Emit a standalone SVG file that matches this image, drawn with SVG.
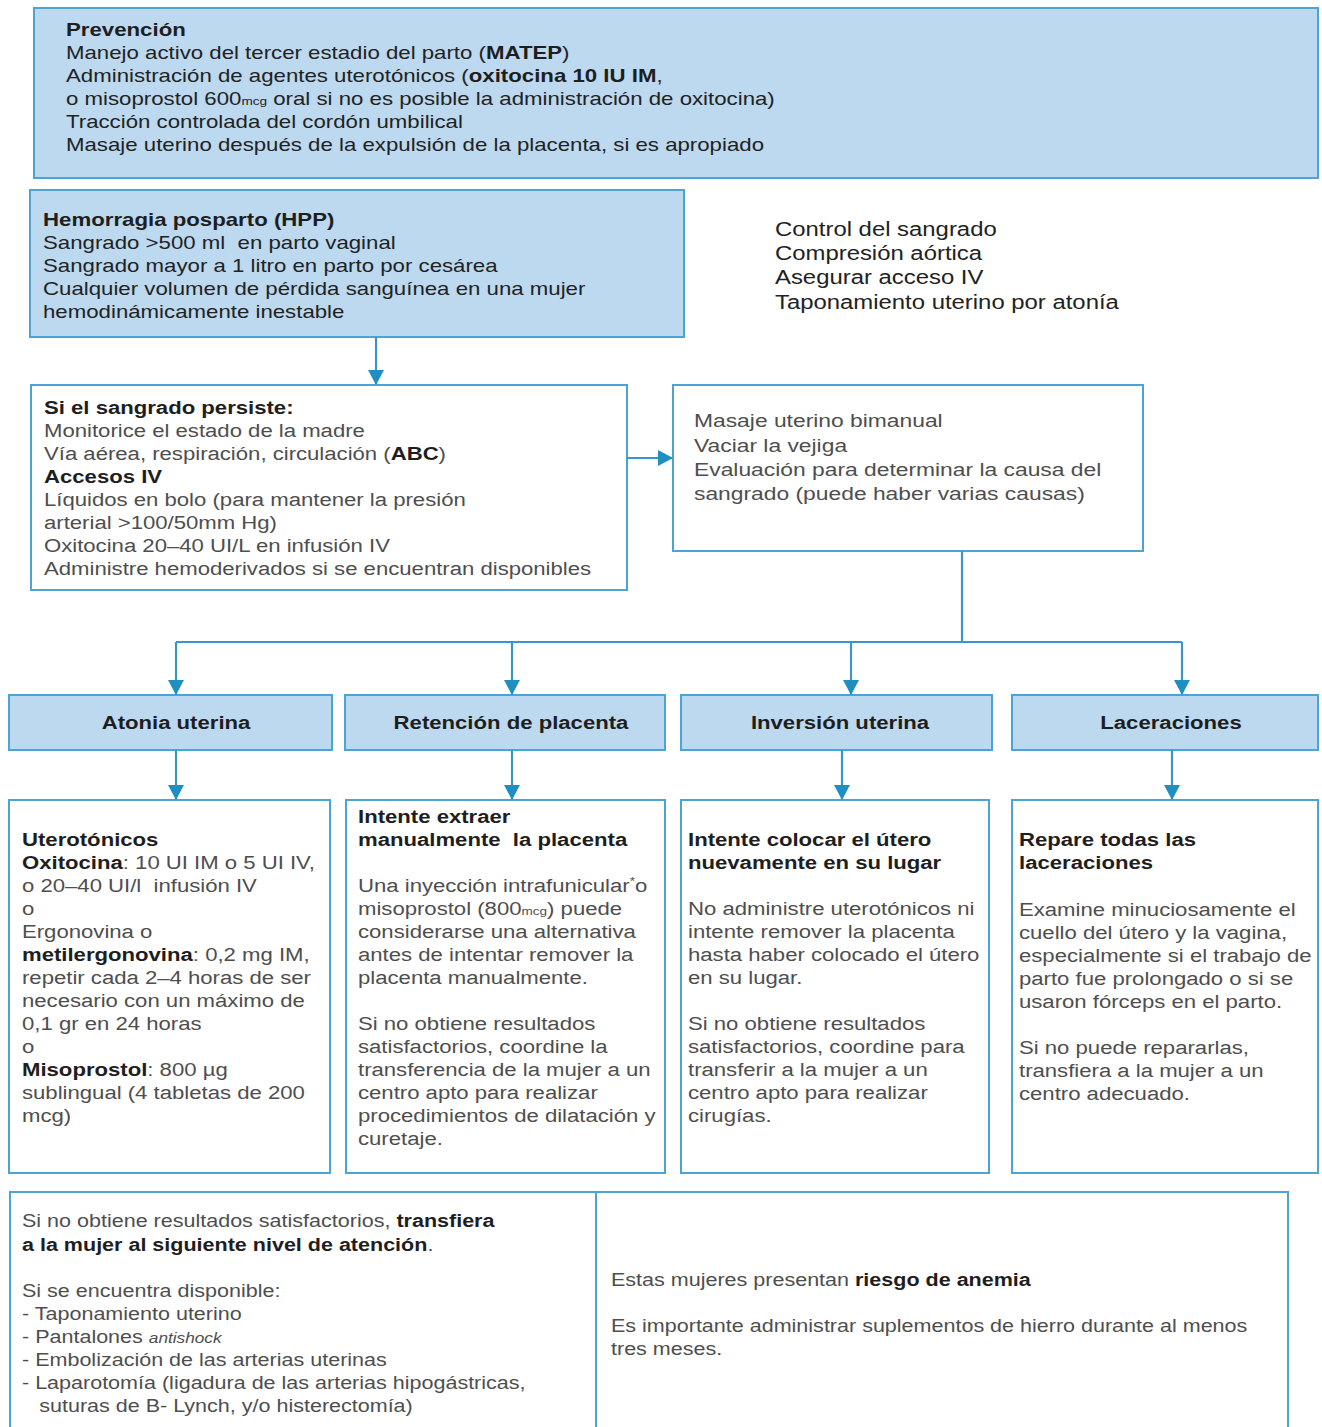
<svg xmlns="http://www.w3.org/2000/svg" width="1322" height="1427" viewBox="0 0 1322 1427">
<defs>
<style>
.bf{fill:#bcd9f0;stroke:#4ba3d6;stroke-width:2}
.bw{fill:#ffffff;stroke:#4ba3d6;stroke-width:2}
.t{font-family:"Liberation Sans",Arial,sans-serif;font-size:18px;fill:#222}
.g{fill:#4e4e4e}
.b{font-weight:bold;fill:#1e1e1e}
.h{font-family:"Liberation Sans",Arial,sans-serif;font-size:18px;font-weight:bold;fill:#1e1e1e;text-anchor:middle}
.sm{font-size:11px}
.it{font-style:italic;font-size:14px}
.conn{stroke:#3a95c8;stroke-width:2.2;fill:none}
</style>
<marker id="ah" markerWidth="15" markerHeight="16" refX="14" refY="8" orient="auto" markerUnits="userSpaceOnUse">
<path d="M0,0 L15,8 L0,16 Z" fill="#1f8fc2"/>
</marker>
</defs>
<rect width="1322" height="1427" fill="#ffffff"/>

<g id="prevencion">
<rect class="bf" x="34" y="8" width="1284" height="170"/>
<text class="t" transform="translate(66 0) scale(1.235 1)">
<tspan x="0" y="36" class="b">Prevención</tspan>
<tspan x="0" y="59">Manejo activo del tercer estadio del parto (<tspan class="b">MATEP</tspan>)</tspan>
<tspan x="0" y="82">Administración de agentes uterotónicos (<tspan class="b">oxitocina 10 IU IM</tspan>,</tspan>
<tspan x="0" y="105">o misoprostol 600<tspan class="sm">mcg</tspan> oral si no es posible la administración de oxitocina)</tspan>
<tspan x="0" y="128">Tracción controlada del cordón umbilical</tspan>
<tspan x="0" y="151">Masaje uterino después de la expulsión de la placenta, si es apropiado</tspan>
</text>
</g>

<g id="hpp">
<rect class="bf" x="30" y="190" width="654" height="147"/>
<text class="t" transform="translate(43 0) scale(1.235 1)">
<tspan x="0" y="226" class="b">Hemorragia posparto (HPP)</tspan>
<tspan x="0" y="249">Sangrado &gt;500 ml &#160;en parto vaginal</tspan>
<tspan x="0" y="272">Sangrado mayor a 1 litro en parto por cesárea</tspan>
<tspan x="0" y="295">Cualquier volumen de pérdida sanguínea en una mujer</tspan>
<tspan x="0" y="318">hemodinámicamente inestable</tspan>
</text>
</g>

<g id="control">
<text class="t" style="font-size:19.5px" transform="translate(775 0) scale(1.225 1)">
<tspan x="0" y="236">Control del sangrado</tspan>
<tspan x="0" y="260">Compresión aórtica</tspan>
<tspan x="0" y="284">Asegurar acceso IV</tspan>
<tspan x="0" y="309">Taponamiento uterino por atonía</tspan>
</text>
</g>

<g id="persiste">
<rect class="bw" x="31" y="385" width="596" height="205"/>
<text class="t g" transform="translate(44 0) scale(1.23 1)">
<tspan x="0" y="414" class="b">Si el sangrado persiste:</tspan>
<tspan x="0" y="437">Monitorice el estado de la madre</tspan>
<tspan x="0" y="460">Vía aérea, respiración, circulación (<tspan class="b">ABC</tspan>)</tspan>
<tspan x="0" y="483" class="b">Accesos IV</tspan>
<tspan x="0" y="506">Líquidos en bolo (para mantener la presión</tspan>
<tspan x="0" y="529">arterial &gt;100/50mm Hg)</tspan>
<tspan x="0" y="552">Oxitocina 20–40 UI/L en infusión IV</tspan>
<tspan x="0" y="575">Administre hemoderivados si se encuentran disponibles</tspan>
</text>
</g>

<g id="masaje">
<rect class="bw" x="673" y="385" width="470" height="166"/>
<text class="t g" style="font-size:18.5px" transform="translate(694 0) scale(1.235 1)">
<tspan x="0" y="427">Masaje uterino bimanual</tspan>
<tspan x="0" y="452">Vaciar la vejiga</tspan>
<tspan x="0" y="476">Evaluación para determinar la causa del</tspan>
<tspan x="0" y="500">sangrado (puede haber varias causas)</tspan>
</text>
</g>

<g id="atonia">
<rect class="bf" x="9" y="695" width="323" height="55"/>
<text class="h" transform="translate(176 729) scale(1.23 1)">Atonia uterina</text>
</g>
<g id="retencion">
<rect class="bf" x="345" y="695" width="320" height="55"/>
<text class="h" transform="translate(511 729) scale(1.23 1)">Retención de placenta</text>
</g>
<g id="inversion">
<rect class="bf" x="681" y="695" width="311" height="55"/>
<text class="h" transform="translate(840 729) scale(1.23 1)">Inversión uterina</text>
</g>
<g id="laceraciones">
<rect class="bf" x="1012" y="695" width="306" height="55"/>
<text class="h" transform="translate(1171 729) scale(1.23 1)">Laceraciones</text>
</g>

<g id="uterotonicos">
<rect class="bw" x="9" y="800" width="321" height="373"/>
<text class="t g" transform="translate(22 0) scale(1.23 1)">
<tspan x="0" y="846" class="b">Uterotónicos</tspan>
<tspan x="0" y="869"><tspan class="b">Oxitocina</tspan>: 10 UI IM o 5 UI IV,</tspan>
<tspan x="0" y="892">o 20–40 UI/l &#160;infusión IV</tspan>
<tspan x="0" y="915">o</tspan>
<tspan x="0" y="938">Ergonovina o</tspan>
<tspan x="0" y="961"><tspan class="b">metilergonovina</tspan>: 0,2 mg IM,</tspan>
<tspan x="0" y="984">repetir cada 2–4 horas de ser</tspan>
<tspan x="0" y="1007">necesario con un máximo de</tspan>
<tspan x="0" y="1030">0,1 gr en 24 horas</tspan>
<tspan x="0" y="1053">o</tspan>
<tspan x="0" y="1076"><tspan class="b">Misoprostol</tspan>: 800 µg</tspan>
<tspan x="0" y="1099">sublingual (4 tabletas de 200</tspan>
<tspan x="0" y="1122">mcg)</tspan>
</text>
</g>

<g id="extraer">
<rect class="bw" x="346" y="800" width="319" height="373"/>
<text class="t g" transform="translate(358 0) scale(1.23 1)">
<tspan x="0" y="823" class="b">Intente extraer</tspan>
<tspan x="0" y="846" class="b">manualmente &#160;la placenta</tspan>
<tspan x="0" y="892">Una inyección intrafunicular<tspan class="sm" dy="-7">*</tspan><tspan dy="7">o</tspan></tspan>
<tspan x="0" y="915">misoprostol (800<tspan class="sm">mcg</tspan>) puede</tspan>
<tspan x="0" y="938">considerarse una alternativa</tspan>
<tspan x="0" y="961">antes de intentar remover la</tspan>
<tspan x="0" y="984">placenta manualmente.</tspan>
<tspan x="0" y="1030">Si no obtiene resultados</tspan>
<tspan x="0" y="1053">satisfactorios, coordine la</tspan>
<tspan x="0" y="1076">transferencia de la mujer a un</tspan>
<tspan x="0" y="1099">centro apto para realizar</tspan>
<tspan x="0" y="1122">procedimientos de dilatación y</tspan>
<tspan x="0" y="1145">curetaje.</tspan>
</text>
</g>

<g id="colocar">
<rect class="bw" x="681" y="800" width="308" height="373"/>
<text class="t g" transform="translate(688 0) scale(1.23 1)">
<tspan x="0" y="846" class="b">Intente colocar el útero</tspan>
<tspan x="0" y="869" class="b">nuevamente en su lugar</tspan>
<tspan x="0" y="915">No administre uterotónicos ni</tspan>
<tspan x="0" y="938">intente remover la placenta</tspan>
<tspan x="0" y="961">hasta haber colocado el útero</tspan>
<tspan x="0" y="984">en su lugar.</tspan>
<tspan x="0" y="1030">Si no obtiene resultados</tspan>
<tspan x="0" y="1053">satisfactorios, coordine para</tspan>
<tspan x="0" y="1076">transferir a la mujer a un</tspan>
<tspan x="0" y="1099">centro apto para realizar</tspan>
<tspan x="0" y="1122">cirugías.</tspan>
</text>
</g>

<g id="repare">
<rect class="bw" x="1012" y="800" width="306" height="373"/>
<text class="t g" transform="translate(1019 0) scale(1.23 1)">
<tspan x="0" y="846" class="b">Repare todas las</tspan>
<tspan x="0" y="869" class="b">laceraciones</tspan>
<tspan x="0" y="916">Examine minuciosamente el</tspan>
<tspan x="0" y="939">cuello del útero y la vagina,</tspan>
<tspan x="0" y="962">especialmente si el trabajo de</tspan>
<tspan x="0" y="985">parto fue prolongado o si se</tspan>
<tspan x="0" y="1008">usaron fórceps en el parto.</tspan>
<tspan x="0" y="1054">Si no puede repararlas,</tspan>
<tspan x="0" y="1077">transfiera a la mujer a un</tspan>
<tspan x="0" y="1100">centro adecuado.</tspan>
</text>
</g>

<g id="transfiera">
<rect class="bw" x="10" y="1192" width="586" height="250"/>
<text class="t g" style="font-size:17.5px" transform="translate(22 0) scale(1.23 1)">
<tspan x="0" y="1227">Si no obtiene resultados satisfactorios, <tspan class="b">transfiera</tspan></tspan>
<tspan x="0" y="1251" class="b">a la mujer al siguiente nivel de atención<tspan style="font-weight:normal" class="g">.</tspan></tspan>
<tspan x="0" y="1297">Si se encuentra disponible:</tspan>
<tspan x="0" y="1320">- Taponamiento uterino</tspan>
<tspan x="0" y="1343">- Pantalones <tspan class="it">antishock</tspan></tspan>
<tspan x="0" y="1366">- Embolización de las arterias uterinas</tspan>
<tspan x="0" y="1389">- Laparotomía (ligadura de las arterias hipogástricas,</tspan>
<tspan x="14" y="1412">suturas de B- Lynch, y/o histerectomía)</tspan>
</text>
</g>

<g id="anemia">
<rect class="bw" x="596" y="1192" width="692" height="250"/>
<text class="t g" style="font-size:17.5px" transform="translate(611 0) scale(1.23 1)">
<tspan x="0" y="1286">Estas mujeres presentan <tspan class="b">riesgo de anemia</tspan></tspan>
<tspan x="0" y="1332">Es importante administrar suplementos de hierro durante al menos</tspan>
<tspan x="0" y="1355">tres meses.</tspan>
</text>
</g>

<g id="connectors">
<path class="conn" d="M376,337 V384" marker-end="url(#ah)"/>
<path class="conn" d="M627,458 H672" marker-end="url(#ah)"/>
<path class="conn" d="M962,551 V642"/>
<path class="conn" d="M176,642 H1182"/>
<path class="conn" d="M176,642 V694" marker-end="url(#ah)"/>
<path class="conn" d="M512,642 V694" marker-end="url(#ah)"/>
<path class="conn" d="M851,642 V694" marker-end="url(#ah)"/>
<path class="conn" d="M1182,642 V694" marker-end="url(#ah)"/>
<path class="conn" d="M176,750 V799" marker-end="url(#ah)"/>
<path class="conn" d="M512,750 V799" marker-end="url(#ah)"/>
<path class="conn" d="M842,750 V799" marker-end="url(#ah)"/>
<path class="conn" d="M1172,750 V799" marker-end="url(#ah)"/>
</g>
</svg>
